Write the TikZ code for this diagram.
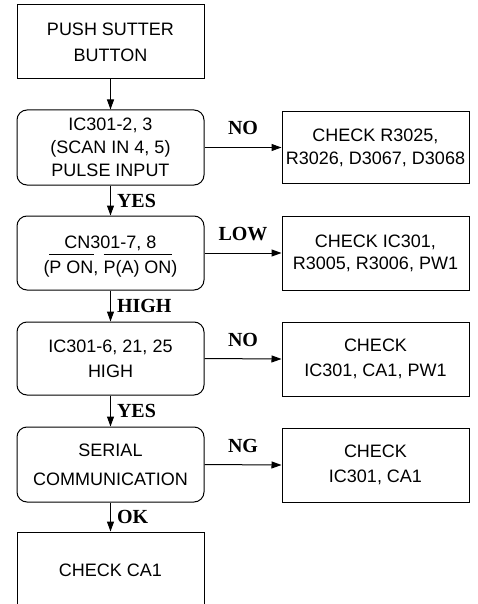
\documentclass[tikz,border=0pt]{standalone}
\usepackage{fontspec}
\setmainfont{Liberation Serif}
\setsansfont{Liberation Sans}
\usetikzlibrary{arrows.meta}
\newcommand\myovl[1]{$\overline{\mbox{\rule{0pt}{18pt}#1}}$}
\begin{document}
\begin{tikzpicture}[x=1pt,y=-1pt,
  box/.style={draw, line width=1pt, minimum width=187pt, minimum height=74pt, align=center, inner sep=0pt, font=\sffamily\fontsize{18}{25}\selectfont},
  rbox/.style={box, rounded corners=10pt},
  lab/.style={font=\bfseries\fontsize{20}{20}\selectfont, inner sep=0pt},
  arr/.style={line width=1pt, -{Triangle[length=10pt,width=7pt]}}]
\useasboundingbox (0,0) rectangle (477,604);
\clip (0,0) rectangle (477,604);
\node[box, font=\sffamily\fontsize{18}{26}\selectfont] (b1) at (110.5,42) {PUSH SUTTER\\BUTTON};
\node[rbox, minimum height=75pt, font=\sffamily\fontsize{18}{23}\selectfont] (b2) at (110.5,147.5) {IC301-2, 3\\(SCAN IN 4, 5)\\PULSE INPUT};
\node[box, minimum height=72pt, font=\sffamily\fontsize{18}{23}\selectfont] (c1) at (375.5,147.5) {CHECK R3025,\\R3026, D3067, D3068};
\node[rbox] (b3) at (110.5,253) {\rule{0pt}{20pt}CN301-7, 8\\(\myovl{P ON}, \myovl{P(A) ON})};
\node[box, font=\sffamily\fontsize{18}{22}\selectfont] (c2) at (375.5,253) {CHECK IC301,\\R3005, R3006, PW1};
\node[rbox, minimum height=73pt] (b4) at (110.5,358.5) {IC301-6, 21, 25\\HIGH};
\node[box] (c3) at (375.5,359) {CHECK\\IC301, CA1, PW1};
\node[rbox, minimum height=75pt, font=\sffamily\fontsize{18}{29}\selectfont] (b5) at (110.5,464.5) {SERIAL\\COMMUNICATION};
\node[box] (c4) at (375.5,465) {CHECK\\IC301, CA1};
\node[box, minimum height=76pt] (b6) at (110.5,570) {CHECK CA1};

\draw[arr] (b1.south) -- (b2.north);
\draw[arr] (b2.south) -- node[lab, right=6pt] {YES} (b3.north);
\draw[arr] (b3.south) -- node[lab, right=6pt] {HIGH} (b4.north);
\draw[arr] (b4.south) -- node[lab, right=6pt] {YES} (b5.north);
\draw[arr] (b5.south) -- node[lab, right=6pt] {OK} (b6.north);

\draw[arr] (b2.east) -- node[lab, above=12pt] {NO} (c1.west);
\draw[arr] (b3.east) -- node[lab, above=12pt] {LOW} (c2.west);
\draw[arr] (b4.east) -- node[lab, above=12pt] {NO} (c3.west);
\draw[arr] (b5.east) -- node[lab, above=12pt] {NG} (c4.west);
\end{tikzpicture}
\end{document}
